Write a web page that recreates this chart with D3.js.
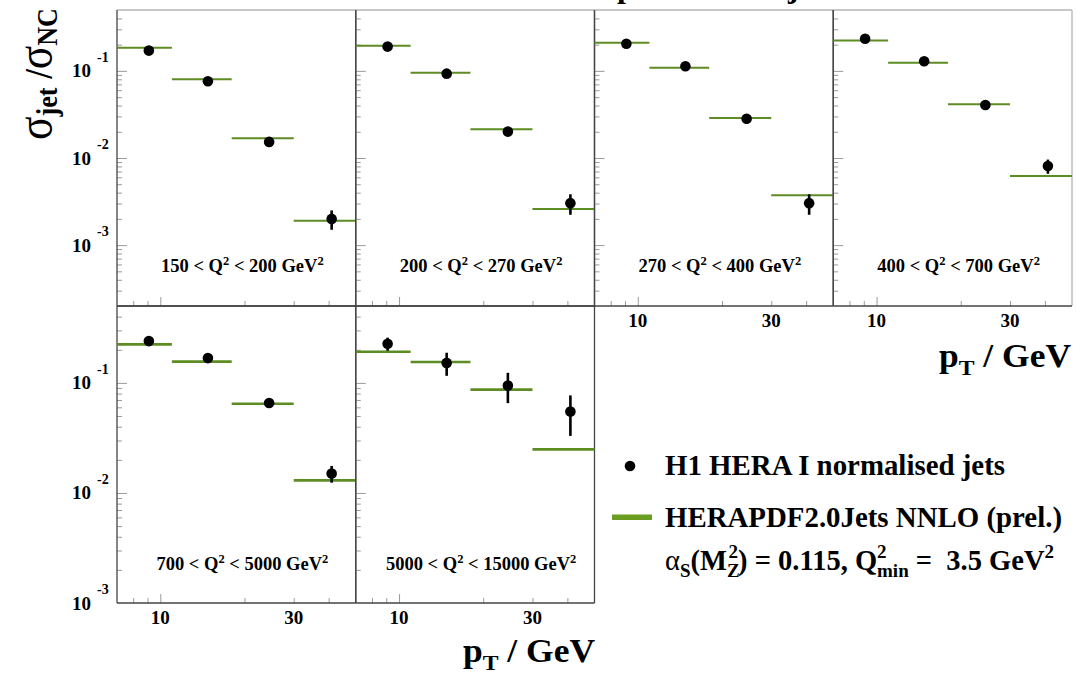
<!DOCTYPE html>
<html lang="en">
<head>
<meta charset="utf-8">
<script src="https://d3js.org/d3.v7.min.js"></script>
<title>H1 normalised jets vs HERAPDF2.0Jets NNLO</title>
<style>
  body { margin: 0; background: #fff; }
  svg { display: block; }
  text { font-family: "Liberation Serif", "Times New Roman", serif; font-weight: bold; fill: #000; white-space: pre; }
</style>
</head>
<body>
<svg id="chart" width="1077" height="679"></svg>
<script>
// Q^2 bins (GeV^2), one panel each
const qLow  = [150, 200, 270, 400, 700, 5000];
const qHigh = [200, 270, 400, 700, 5000, 15000];

// pT bins (GeV) and mean pT of the data points
const ptEdges = [7, 11, 18, 30, 50];
const ptMean  = [9.1, 14.8, 24.5, 41];

// H1 HERA I normalised jets, sigma_jet / sigma_NC
const h1Jets = [
  [0.171, 0.076, 0.0153, 0.0020],
  [0.19, 0.093, 0.0201, 0.00303],
  [0.205, 0.113, 0.0282, 0.00303],
  [0.234, 0.129, 0.0406, 0.00809],
  [0.240, 0.168, 0.0656, 0.0150],
  [0.227, 0.152, 0.0945, 0.0550]
];
const h1Err = [
  [0.004, 0.002, 0.0004, 0.0005],
  [0.005, 0.002, 0.0005, 0.0008],
  [0.005, 0.003, 0.0007, 0.0008],
  [0.006, 0.003, 0.001, 0.0015],
  [0.006, 0.004, 0.002, 0.0026],
  [0.031, 0.036, 0.029, 0.022]
];

// HERAPDF2.0Jets NNLO (prel.) prediction per pT bin
const herapdf = [
  [0.184, 0.080, 0.0169, 0.00191],
  [0.194, 0.095, 0.0214, 0.0026],
  [0.21, 0.109, 0.0287, 0.00374],
  [0.223, 0.124, 0.0413, 0.0062],
  [0.224, 0.156, 0.0646, 0.0130],
  [0.192, 0.155, 0.0869, 0.0249]
];

const xTickLabels = [10, 30];
const yDecades = [1e-1, 1e-2, 1e-3];

const svg = d3.select("#chart");
const GREEN = "#5c8c22";
const FRAME = "#444";
const LIGHT = "#b4b4b4";
const TICK = "#9a9a9a";

const panelW = 238.75;
const colX = [117, 117 + panelW, 117 + 2 * panelW, 117 + 3 * panelW];
const rows = [
  {top: 10, bottom: 306, domain: [2e-4, 0.5], lw: 2},
  {top: 306, bottom: 603, domain: [1e-3, 0.5], lw: 2.6}
];

// minor + major log ticks inside a domain
function logTicks(lo, hi) {
  const out = [];
  for (let e = Math.floor(Math.log10(lo)); e <= Math.ceil(Math.log10(hi)); e++) {
    for (let k = 1; k < 10; k++) {
      const v = k * Math.pow(10, e);
      if (v > lo * 1.0001 && v < hi * 0.9999) out.push(v);
    }
  }
  return out;
}
const isDecade = v => Math.abs(Math.log10(v) - Math.round(Math.log10(v))) < 1e-6;

// title (only its descenders fall inside the picture)
const title = svg.append("text").attr("y", -3).attr("font-size", 32)
  .text("HERAPDF2.0Jets NNLO compared to H1 jets");
const pIdx = title.text().indexOf("p");
const pPos = title.node().getStartPositionOfChar(pIdx).x;
title.attr("x", 617 - pPos);

qLow.forEach((ql, i) => {
  const row = i < 4 ? 0 : 1;
  const col = i < 4 ? i : i - 4;
  const R = rows[row];
  const x0 = colX[col], x1 = x0 + panelW;

  const x = d3.scaleLog().domain([ptEdges[0], ptEdges[ptEdges.length - 1]]).range([x0, x1]);
  const y = d3.scaleLog().domain(R.domain).range([R.bottom, R.top]);

  const g = svg.append("g").attr("class", "panel");

  // y ticks (pointing inward)
  const yt = logTicks(R.domain[0], R.domain[1]);
  g.append("g").attr("transform", `translate(${x0},0)`)
    .call(d3.axisRight(y).tickValues(yt.filter(isDecade)).tickSize(10).tickSizeOuter(0).tickFormat(""))
    .call(a => a.select(".domain").remove())
    .call(a => a.selectAll("line").attr("stroke", TICK));
  g.append("g").attr("transform", `translate(${x0},0)`)
    .call(d3.axisRight(y).tickValues(yt.filter(v => !isDecade(v))).tickSize(5).tickSizeOuter(0).tickFormat(""))
    .call(a => a.select(".domain").remove())
    .call(a => a.selectAll("line").attr("stroke", TICK));

  // x ticks (pointing up from the bottom)
  const xt = logTicks(ptEdges[0], ptEdges[ptEdges.length - 1]);
  g.append("g").attr("transform", `translate(0,${R.bottom})`)
    .call(d3.axisTop(x).tickValues(xt.filter(isDecade)).tickSize(9).tickSizeOuter(0).tickFormat(""))
    .call(a => a.select(".domain").remove())
    .call(a => a.selectAll("line").attr("stroke", TICK));
  g.append("g").attr("transform", `translate(0,${R.bottom})`)
    .call(d3.axisTop(x).tickValues(xt.filter(v => !isDecade(v))).tickSize(5).tickSizeOuter(0).tickFormat(""))
    .call(a => a.select(".domain").remove())
    .call(a => a.selectAll("line").attr("stroke", TICK));

  // frame
  g.append("line").attr("x1", x0).attr("x2", x1).attr("y1", R.top).attr("y2", R.top)
    .attr("stroke", row === 0 ? LIGHT : FRAME).attr("stroke-width", 1.3);
  g.append("line").attr("x1", x1).attr("x2", x1).attr("y1", R.top).attr("y2", R.bottom)
    .attr("stroke", i === 3 ? LIGHT : FRAME).attr("stroke-width", 1.3);
  g.append("line").attr("x1", x0).attr("x2", x0).attr("y1", R.top).attr("y2", R.bottom)
    .attr("stroke", FRAME).attr("stroke-width", 1.3);
  g.append("line").attr("x1", x0).attr("x2", x1).attr("y1", R.bottom).attr("y2", R.bottom)
    .attr("stroke", FRAME).attr("stroke-width", 1.3);

  // HERAPDF prediction
  g.selectAll(".pred").data(herapdf[i]).join("line").attr("class", "pred")
    .attr("x1", (d, j) => x(ptEdges[j])).attr("x2", (d, j) => x(ptEdges[j + 1]))
    .attr("y1", d => y(d)).attr("y2", d => y(d))
    .attr("stroke", GREEN).attr("stroke-width", R.lw);

  // H1 data
  const pts = h1Jets[i].map((v, j) => ({pt: ptMean[j], v: v, e: h1Err[i][j]}));
  g.selectAll(".err").data(pts).join("line").attr("class", "err")
    .attr("x1", d => x(d.pt)).attr("x2", d => x(d.pt))
    .attr("y1", d => y(d.v - d.e)).attr("y2", d => y(d.v + d.e))
    .attr("stroke", "#000").attr("stroke-width", 2.6);
  g.selectAll(".pt").data(pts).join("circle").attr("class", "pt")
    .attr("cx", d => x(d.pt)).attr("cy", d => y(d.v)).attr("r", 5.3).attr("fill", "#000");

  // Q^2 range label
  const lab = g.append("text").attr("x", (x0 + x1) / 2 + 6).attr("y", row === 0 ? 272 : 570)
    .attr("text-anchor", "middle").attr("font-size", 18.5);
  lab.append("tspan").text(`${ql} < Q`);
  lab.append("tspan").text("2").attr("font-size", 12.5).attr("dy", -7);
  lab.append("tspan").text(` < ${qHigh[i]} GeV`).attr("dy", 7);
  lab.append("tspan").text("2").attr("font-size", 12.5).attr("dy", -7);

  // y tick labels on first column
  if (col === 0) {
    yDecades.forEach(v => {
      g.append("text").attr("x", 91).attr("y", y(v) + 6.5).attr("text-anchor", "end")
        .attr("font-size", 19).text("10");
      g.append("text").attr("x", 97).attr("y", y(v) - 9).attr("font-size", 14)
        .text("-" + Math.round(-Math.log10(v)));
    });
  }
  // x tick labels on the lowest panel of each column
  if (row === 1 || col >= 2) {
    xTickLabels.forEach(v => {
      g.append("text").attr("x", x(v)).attr("y", R.bottom + 21).attr("text-anchor", "middle")
        .attr("font-size", 19).text(v);
    });
  }
});

// axis titles
function ptTitle(xr, yb) {
  const t = svg.append("text").attr("x", xr).attr("y", yb).attr("text-anchor", "end")
    .attr("font-size", 33).attr("textLength", 132).attr("lengthAdjust", "spacingAndGlyphs");
  t.append("tspan").text("p");
  t.append("tspan").text("T").attr("font-size", 22).attr("dy", 8);
  t.append("tspan").text(" / GeV").attr("dy", -8);
}
ptTitle(1071, 367);
ptTitle(595, 662);

const yt = svg.append("text").attr("transform", "translate(52,140) rotate(-90)")
  .attr("font-size", 50).attr("textLength", 132).attr("lengthAdjust", "spacingAndGlyphs");
yt.append("tspan").text("σ").attr("font-weight", "normal");
yt.append("tspan").text("jet").attr("font-size", 30).attr("dy", 5);
yt.append("tspan").text(" /").attr("dy", -5).attr("font-size", 40);
yt.append("tspan").text("σ").attr("font-weight", "normal");
yt.append("tspan").text("NC").attr("font-size", 30).attr("dy", 5);

// legend
const leg = svg.append("g");
leg.append("circle").attr("cx", 630).attr("cy", 466).attr("r", 5.3).attr("fill", "#000");
leg.append("text").attr("x", 665).attr("y", 475).attr("font-size", 28.5)
  .attr("textLength", 340).attr("lengthAdjust", "spacingAndGlyphs")
  .text("H1 HERA I normalised jets");
leg.append("rect").attr("x", 612).attr("y", 514.5).attr("width", 40).attr("height", 5.5).attr("fill", "#6a9d22");
leg.append("text").attr("x", 665).attr("y", 527).attr("font-size", 28.5)
  .attr("textLength", 397).attr("lengthAdjust", "spacingAndGlyphs")
  .text("HERAPDF2.0Jets NNLO (prel.)");
const l3 = leg.append("text").attr("x", 665).attr("y", 570).attr("font-size", 28.5);
l3.append("tspan").text("α").attr("font-weight", "normal");
l3.append("tspan").text("S").attr("font-size", 19).attr("dy", 7);
l3.append("tspan").text("(M").attr("dy", -7);
l3.append("tspan").text("Z").attr("font-size", 19).attr("dy", 7);
l3.append("tspan").text("2").attr("font-size", 19).attr("dx", -11).attr("dy", -19);
l3.append("tspan").text(") = 0.115, Q").attr("dy", 12);
l3.append("tspan").text("2").attr("font-size", 19).attr("dy", -12);
l3.append("tspan").text("min").attr("font-size", 19).attr("dx", -9.5).attr("dy", 19);
l3.append("tspan").text(" =  3.5 GeV").attr("dy", -7);
l3.append("tspan").text("2").attr("font-size", 19).attr("dy", -12);
</script>
</body>
</html>
